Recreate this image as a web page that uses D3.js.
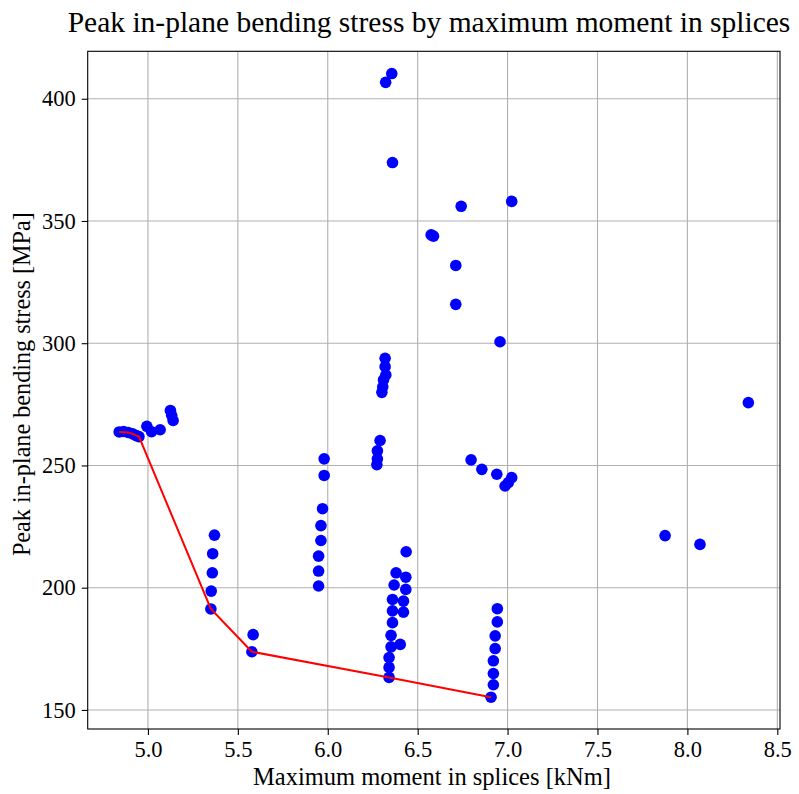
<!DOCTYPE html>
<html>
<head>
<meta charset="utf-8">
<script src="https://cdn.jsdelivr.net/npm/d3@7/dist/d3.min.js"></script>
<style>
  html, body { margin: 0; padding: 0; background: #fff; }
  svg { display: block; }
  text { font-family: "Liberation Serif", "Times New Roman", serif; fill: #000; }
</style>
</head>
<body>
<svg id="chart" width="799" height="794"></svg>
<script>
// Maximum moment in splices [kNm] for each analysed configuration
const moments = [
  4.840, 4.865, 4.890, 4.915, 4.935, 4.950,
  4.994, 5.020, 5.068, 5.125, 5.132, 5.140,
  5.370, 5.360, 5.358, 5.352, 5.350,
  5.585, 5.578,
  5.980, 5.980, 5.971, 5.962, 5.962, 5.949, 5.949, 5.949,
  6.291, 6.276, 6.276, 6.273,
  6.319, 6.319, 6.323, 6.310, 6.306, 6.301,
  6.356, 6.322, 6.360,
  6.575, 6.588,
  6.742, 7.023, 6.712, 6.712, 6.958, 8.339,
  6.797, 6.857, 6.940, 7.023, 7.004, 6.986,
  7.876, 8.070,
  6.380, 6.369, 6.360, 6.360, 6.360, 6.352, 6.352, 6.341, 6.341, 6.341,
  6.436, 6.434, 6.434, 6.421, 6.421, 6.403,
  6.943, 6.943, 6.931, 6.931, 6.921, 6.921, 6.921, 6.908
];

// Peak in-plane bending stress [MPa], same order as moments
const stresses = [
  263.7, 263.9, 263.5, 262.9, 262.2, 261.8,
  266.0, 263.8, 264.6, 272.5, 270.5, 268.4,
  221.5, 213.9, 206.1, 198.6, 191.3,
  180.8, 173.8,
  252.7, 245.9, 232.3, 225.4, 219.3, 212.9, 206.8, 200.7,
  260.2, 256.0, 252.7, 250.3,
  293.8, 290.4, 287.0, 285.0, 282.2, 279.9,
  410.3, 406.7, 373.9,
  344.3, 343.8,
  356.0, 358.0, 331.8, 315.9, 300.6, 275.7,
  252.3, 248.4, 246.4, 245.0, 243.0, 241.6,
  221.3, 217.7,
  206.1, 201.1, 195.2, 190.5, 185.7, 180.5, 175.8, 171.4, 167.4, 163.3,
  214.7, 204.3, 199.3, 194.5, 190.0, 176.8,
  191.4, 186.0, 180.3, 175.1, 170.1, 164.9, 160.3, 155.2
];

// Lower envelope (Pareto front) of stress versus moment
const frontMoments  = [4.840, 4.890, 4.915, 4.950, 5.350, 5.578, 6.341, 6.908];
const frontStresses = [263.7, 263.5, 262.9, 261.8, 191.3, 173.8, 163.3, 155.2];

const xTicks = [5.0, 5.5, 6.0, 6.5, 7.0, 7.5, 8.0, 8.5];
const yTicks = [150, 200, 250, 300, 350, 400];

const titleText  = "Peak in-plane bending stress by maximum moment in splices";
const xLabelText = "Maximum moment in splices [kNm]";
const yLabelText = "Peak in-plane bending stress [MPa]";

const svg = d3.select("#chart");
const plot = { left: 87.7, right: 780, top: 51.3, bottom: 729 };

const x = d3.scaleLinear().domain([4.665, 8.515]).range([plot.left, plot.right]);
const y = d3.scaleLinear().domain([142.2, 419.4]).range([plot.bottom, plot.top]);

// grid lines
const grid = svg.append("g");
grid.selectAll("line.gx").data(xTicks).join("line")
  .attr("x1", d => x(d)).attr("x2", d => x(d))
  .attr("y1", plot.top).attr("y2", plot.bottom)
  .attr("stroke", "#b0b0b0").attr("stroke-width", 1.1);
grid.selectAll("line.gy").data(yTicks).join("line")
  .attr("y1", d => y(d)).attr("y2", d => y(d))
  .attr("x1", plot.left).attr("x2", plot.right)
  .attr("stroke", "#b0b0b0").attr("stroke-width", 1.1);

// axes
const xAxis = d3.axisBottom(x).tickValues(xTicks).tickFormat(d3.format(".1f"))
  .tickSizeInner(6).tickSizeOuter(0).tickPadding(6);
const yAxis = d3.axisLeft(y).tickValues(yTicks).tickFormat(d3.format("d"))
  .tickSizeInner(6).tickSizeOuter(0).tickPadding(6);

const gx = svg.append("g").attr("transform", `translate(0,${plot.bottom})`).call(xAxis);
const gy = svg.append("g").attr("transform", `translate(${plot.left},0)`).call(yAxis);
[gx, gy].forEach(g => {
  g.select(".domain").remove();
  g.selectAll(".tick line").attr("stroke", "#000").attr("stroke-width", 1.1);
  g.selectAll(".tick text").attr("font-family", "Liberation Serif").attr("font-size", 22.5).attr("fill", "#000");
});

// frame
svg.append("rect")
  .attr("x", plot.left).attr("y", plot.top)
  .attr("width", plot.right - plot.left).attr("height", plot.bottom - plot.top)
  .attr("fill", "none").attr("stroke", "#000").attr("stroke-width", 1.1);

// scatter points
const pts = moments.map((m, i) => ({ m, s: stresses[i] }));
svg.append("g").selectAll("circle").data(pts).join("circle")
  .attr("cx", d => x(d.m)).attr("cy", d => y(d.s))
  .attr("r", 5.8).attr("fill", "#0000ff");

// front line
const front = frontMoments.map((m, i) => ({ m, s: frontStresses[i] }));
svg.append("path").datum(front)
  .attr("d", d3.line().x(d => x(d.m)).y(d => y(d.s)))
  .attr("fill", "none").attr("stroke", "#ff0000").attr("stroke-width", 2);

// title and labels
svg.append("text").attr("x", 429).attr("y", 32)
  .attr("text-anchor", "middle").attr("font-size", 29.5).text(titleText);
svg.append("text").attr("x", 432).attr("y", 785)
  .attr("text-anchor", "middle").attr("font-size", 24.5).text(xLabelText);
svg.append("text")
  .attr("transform", `translate(30,${(plot.top + plot.bottom) / 2 - 6}) rotate(-90)`)
  .attr("text-anchor", "middle").attr("font-size", 24.2).text(yLabelText);
</script>
</body>
</html>
